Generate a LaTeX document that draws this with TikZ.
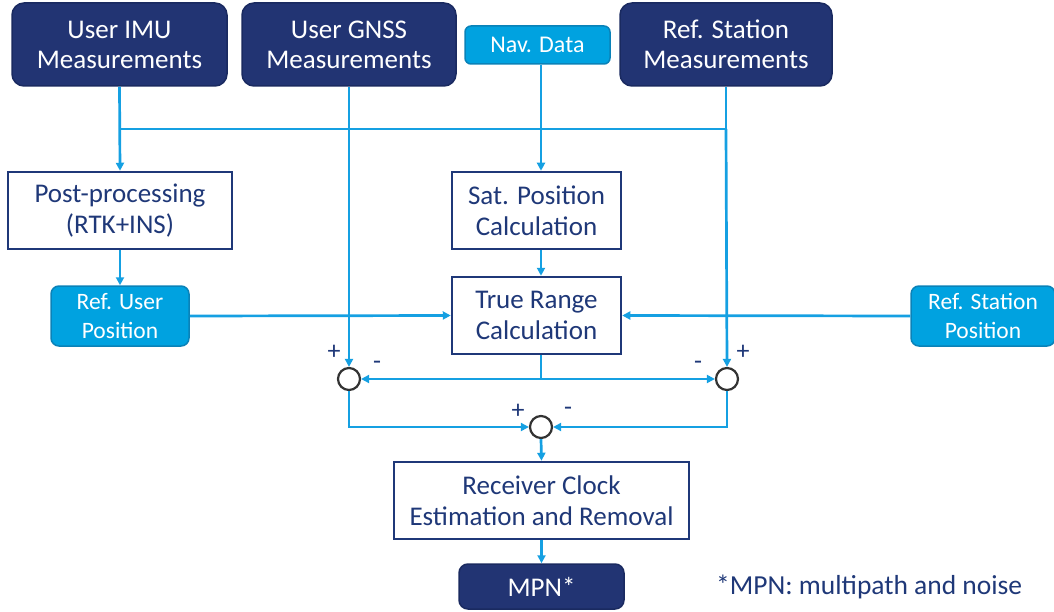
\documentclass[tikz,border=0pt]{standalone}
\usepackage{fontspec}
\setmainfont{Carlito}
\usetikzlibrary{arrows.meta}
\definecolor{navy}{HTML}{223473}
\definecolor{navyline}{HTML}{1A2A60}
\definecolor{navytext}{HTML}{1F3878}
\definecolor{sky}{HTML}{00A2E0}
\definecolor{skyline}{HTML}{0A82B8}
\definecolor{wire}{HTML}{15A0E2}
\definecolor{ring}{HTML}{333333}
\tikzset{
  darkbox/.style={draw=navyline, line width=1.5pt, fill=navy, rounded corners=12pt,
    text=white, align=center, inner sep=0pt, font=\fontsize{27}{30}\selectfont},
  skybox/.style={draw=skyline, line width=1.5pt, fill=sky, rounded corners=8pt,
    text=white, align=center, inner sep=0pt, font=\fontsize{23.5}{29}\selectfont},
  procbox/.style={draw=navytext, line width=2.5pt, fill=white,
    text=navytext, align=center, inner sep=0pt, font=\fontsize{27}{31}\selectfont},
  sumnode/.style={circle, draw=ring, line width=2.2pt, fill=white,
    minimum size=22pt, inner sep=0pt},
  wireline/.style={draw=wire, line width=2.7pt},
  arr/.style={wireline, -{Triangle[length=8pt,width=8pt]}},
  sign/.style={text=navytext, font=\fontsize{26}{26}\selectfont, inner sep=0pt},
}
\begin{document}
\begin{tikzpicture}[x=1pt, y=-1pt]
\useasboundingbox (0,0) rectangle (1054,612);

% inputs
\node[darkbox, minimum width=215pt, minimum height=83pt] (imu) at (119.5,44.5) {User IMU\\Measurements};
\node[darkbox, minimum width=214pt, minimum height=83pt] (gnss) at (349,44.5) {User GNSS\\Measurements};
\node[skybox, minimum width=145pt, minimum height=38pt, rounded corners=6pt, font=\fontsize{24}{29}\selectfont] (nav) at (537.5,45) {Nav. Data};
\node[darkbox, minimum width=212pt, minimum height=83pt] (refmeas) at (726,44.5) {Ref. Station\\Measurements};

% processing blocks
\node[procbox, minimum width=224pt, minimum height=77pt] (post) at (120,210.5) {Post-processing\\(RTK+INS)};
\node[procbox, minimum width=169pt, minimum height=77pt] (sat) at (536.5,210.5) {Sat. Position\\Calculation};
\node[skybox, minimum width=138pt, minimum height=60pt] (refuser) at (120,316) {Ref. User\\Position};
\node[procbox, minimum width=169pt, minimum height=77pt] (range) at (536.5,315.5) {True Range\\Calculation};
\node[skybox, minimum width=144pt, minimum height=60pt] (refstat) at (983,316) {Ref. Station\\Position};

% summing junctions
\node[sumnode] (s1) at (349,379) {};
\node[sumnode] (s2) at (727,379) {};
\node[sumnode] (s3) at (541,427) {};

% output
\node[procbox, minimum width=295pt, minimum height=77pt] (clock) at (541.5,500.5) {Receiver Clock\\Estimation and Removal};
\node[darkbox, minimum width=165pt, minimum height=45pt, rounded corners=9pt] (mpn) at (541.5,586.5) {MPN*};
\node[text=navytext, font=\fontsize{27.5}{30}\selectfont, anchor=west, inner sep=0pt] (note) at (716,587) {*MPN: multipath and noise};

% helper coordinates
\coordinate (colm) at (541,0);
\coordinate (bus) at (0,129);
\coordinate (diff) at (0,379);
\coordinate (merge) at (0,427);

% measurement bus
\draw[wireline] (imu.south |- bus) -- (refmeas.south |- bus);
\draw[wireline] (refmeas.south) -- (refmeas.south |- bus);
\draw[arr] (imu.south) -- (post.north);
\draw[arr] (gnss.south) -- (s1.north);
\draw[arr] (refmeas.south |- bus) -- (s2.north);

% satellite chain
\draw[arr] (nav.south -| colm) -- (sat.north -| colm);
\draw[arr] (sat.south -| colm) -- (range.north -| colm);
\draw[arr] (post.south) -- (refuser.north);
\draw[arr] (refuser.east) -- (range.west);
\draw[arr] (refstat.west) -- (range.east);

% differences
\draw[wireline] (range.south -| colm) -- (colm |- diff);
\draw[arr] (colm |- diff) -- (s1.east);
\draw[arr] (colm |- diff) -- (s2.west);
\draw[arr] (s1.south) |- (s3.west);
\draw[arr] (s2.south) |- (s3.east);
\draw[arr] (s3.south) -- (clock.north);
\draw[arr] (clock.south) -- (mpn.north);

% signs
\node[sign] (p1) at (334,352) {+};
\node[sign] (m1) at (377,365) {-};
\node[sign] (m2) at (698,365) {-};
\node[sign] (p2) at (743,352) {+};
\node[sign] (p3) at (518,411) {+};
\node[sign] (m3) at (568,411) {-};
\end{tikzpicture}
\end{document}
